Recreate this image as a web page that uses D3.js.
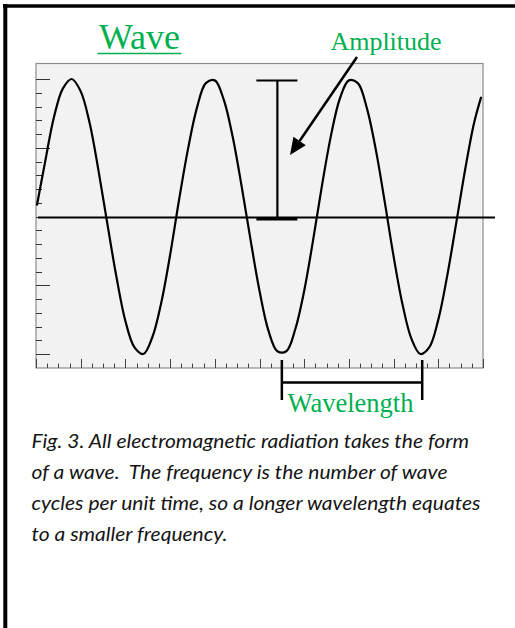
<!DOCTYPE html>
<html>
<head>
<meta charset="utf-8">
<script src="https://cdn.jsdelivr.net/npm/d3@7"></script>
<style>
  body { margin: 0; background: #fff; }
  svg { display: block; }
</style>
</head>
<body>
<svg></svg>
<script>
// wave samples (x in grid units, y in amplitude units)
const waveX = [0.02, 0.2, 0.4, 0.6, 0.8, 1.0, 1.2, 1.4, 1.6, 1.8, 2.0, 2.2, 2.4, 2.6, 2.8, 3.0,
  3.2, 3.4, 3.6, 3.8, 4.0, 4.2, 4.4, 4.6, 4.8, 5.0, 5.2, 5.4, 5.6, 5.8, 6.0, 6.2, 6.4, 6.6,
  6.8, 7.0, 7.2, 7.4, 7.6, 7.8, 8.0, 8.2, 8.4, 8.6, 8.8, 9.0, 9.2, 9.4, 9.6, 9.8, 9.96];
const waveY = [0.08, 0.39, 0.72, 0.93, 1.0, 0.91, 0.68, 0.33, -0.06, -0.44, -0.76, -0.95, -1.0, -0.88, -0.63, -0.28,
  0.12, 0.49, 0.79, 0.97, 0.99, 0.85, 0.58, 0.22, -0.17, -0.54, -0.83, -0.98, -0.98, -0.82, -0.54, -0.17, 0.23, 0.59,
  0.86, 0.99, 0.97, 0.79, 0.49, 0.11, -0.29, -0.64, -0.89, -1.0, -0.95, -0.75, -0.43, -0.05, 0.34, 0.68, 0.87];

// annotations
const amplitudeAt = 5.4;          // x position of the amplitude bar
const wavelengthFrom = 5.5;       // trough to trough
const wavelengthTo = 8.64;

const titleText = "Wave";
const ampLabel = "Amplitude";
const wlLabel = "Wavelength";
const captionLines = [
  "Fig. 3. All electromagnetic radiation takes the form",
  "of a wave.  The frequency is the number of wave",
  "cycles per unit time, so a longer wavelength equates",
  "to a smaller frequency."
];

const width = 515, height = 628;
const green = "#00b050";

const svg = d3.select("svg").attr("width", width).attr("height", height);

const x = d3.scaleLinear().domain([0, 10]).range([36, 483]);
const y = d3.scaleLinear().domain([-1, 1]).range([354, 79]);

// page frame (top + left only)
svg.append("line").attr("x1", 3).attr("x2", width).attr("y1", 6).attr("y2", 6)
  .attr("stroke", "#000").attr("stroke-width", 3.5);
svg.append("line").attr("x1", 5.3).attr("x2", 5.3).attr("y1", 4).attr("y2", height)
  .attr("stroke", "#000").attr("stroke-width", 4);

// plot area
const plotTop = 63.5, plotBottom = 368;
svg.append("rect")
  .attr("x", x(0)).attr("y", plotTop)
  .attr("width", x(10) - x(0)).attr("height", plotBottom - plotTop)
  .attr("fill", "#f2f2f2").attr("stroke", "#8c8c8c").attr("stroke-width", 1.2);

// y ticks: minor every 0.1, major every 0.5
const yTicks = d3.range(-10, 11).map(d => d / 10);
svg.append("g").selectAll("line").data(yTicks).join("line")
  .attr("x1", x(0)).attr("x2", d => Math.abs(d * 2 - Math.round(d * 2)) < 1e-6 ? x(0) + 14 : x(0) + 6)
  .attr("y1", d => Math.round(y(d)) + 0.5).attr("y2", d => Math.round(y(d)) + 0.5)
  .attr("stroke", "#333").attr("stroke-width", 1);

// x ticks: minor every 0.25, major every 1
const xTicks = d3.range(0, 41).map(d => d / 4);
svg.append("g").selectAll("line").data(xTicks).join("line")
  .attr("x1", d => Math.round(x(d)) + 0.5).attr("x2", d => Math.round(x(d)) + 0.5)
  .attr("y1", plotBottom).attr("y2", d => Number.isInteger(d) ? plotBottom - 9 : plotBottom - 4.5)
  .attr("stroke", "#444").attr("stroke-width", 1);

// wave
const pts = waveX.map((v, i) => [v, waveY[i]]);
svg.append("path")
  .datum(pts)
  .attr("fill", "none").attr("stroke", "#000").attr("stroke-width", 2.2)
  .attr("d", d3.line().x(d => x(d[0])).y(d => y(d[1])).curve(d3.curveCatmullRom));

// zero line
svg.append("line").attr("x1", 38).attr("x2", 495).attr("y1", y(0) + 1).attr("y2", y(0) + 1)
  .attr("stroke", "#000").attr("stroke-width", 2.2);

// amplitude bar
const ax = x(amplitudeAt);
svg.append("line").attr("x1", ax).attr("x2", ax).attr("y1", y(1) + 1).attr("y2", y(0) + 2)
  .attr("stroke", "#000").attr("stroke-width", 2.2);
svg.append("line").attr("x1", ax - 21).attr("x2", ax + 20).attr("y1", y(1) + 1.5).attr("y2", y(1) + 1.5)
  .attr("stroke", "#000").attr("stroke-width", 2.2);
svg.append("line").attr("x1", ax - 21).attr("x2", ax + 20).attr("y1", y(0) + 2.5).attr("y2", y(0) + 2.5)
  .attr("stroke", "#000").attr("stroke-width", 3.2);

// arrow from label to bar
const a0 = [357, 57], a1 = [290, 155];
const ang = Math.atan2(a1[1] - a0[1], a1[0] - a0[0]);
const headLen = 17, headW = 7.5;
const base = [a1[0] - headLen * Math.cos(ang), a1[1] - headLen * Math.sin(ang)];
svg.append("line").attr("x1", a0[0]).attr("y1", a0[1]).attr("x2", base[0]).attr("y2", base[1])
  .attr("stroke", "#000").attr("stroke-width", 2.5);
svg.append("path")
  .attr("d", d3.line()([
    a1,
    [base[0] + headW * Math.sin(ang), base[1] - headW * Math.cos(ang)],
    [base[0] - headW * Math.sin(ang), base[1] + headW * Math.cos(ang)]
  ]) + "Z")
  .attr("fill", "#000");

// wavelength bracket
const w0 = x(wavelengthFrom), w1 = x(wavelengthTo);
svg.append("path")
  .attr("d", `M${w0},360V400M${w0},382.5H${w1}M${w1},360V400`)
  .attr("fill", "none").attr("stroke", "#000").attr("stroke-width", 2.5);

// labels
svg.append("text").attr("x", 139.5).attr("y", 48.5).attr("text-anchor", "middle")
  .attr("font-family", "Liberation Serif, Times New Roman, serif").attr("font-size", 36)
  .attr("fill", green).text(titleText);
svg.append("line").attr("x1", 97.5).attr("x2", 181.5).attr("y1", 53.5).attr("y2", 53.5)
  .attr("stroke", green).attr("stroke-width", 1.7);

svg.append("text").attr("x", 386).attr("y", 50).attr("text-anchor", "middle")
  .attr("font-family", "Liberation Serif, Times New Roman, serif").attr("font-size", 26)
  .attr("fill", green).text(ampLabel);

svg.append("text").attr("x", 350.5).attr("y", 411.5).attr("text-anchor", "middle")
  .attr("font-family", "Liberation Serif, Times New Roman, serif").attr("font-size", 26.5)
  .attr("fill", green).text(wlLabel);

// caption: Calibri-like height, squeezed sideways so the widest line keeps the original span
const capX = 31.5;
const cap = svg.append("g")
  .attr("font-family", "Lato, Open Sans, sans-serif").attr("font-style", "italic")
  .attr("font-size", 19.5)
  .attr("fill", "#151515");
const capText = cap.selectAll("text").data(captionLines).join("text")
  .attr("x", 0).attr("y", (d, i) => 448.5 + i * 30.7)
  .style("white-space", "pre")
  .text(d => d);
const w3 = capText.nodes()[2].getComputedTextLength();
cap.attr("transform", `translate(${capX},0) scale(${449 / w3},1)`);
</script>
</body>
</html>
